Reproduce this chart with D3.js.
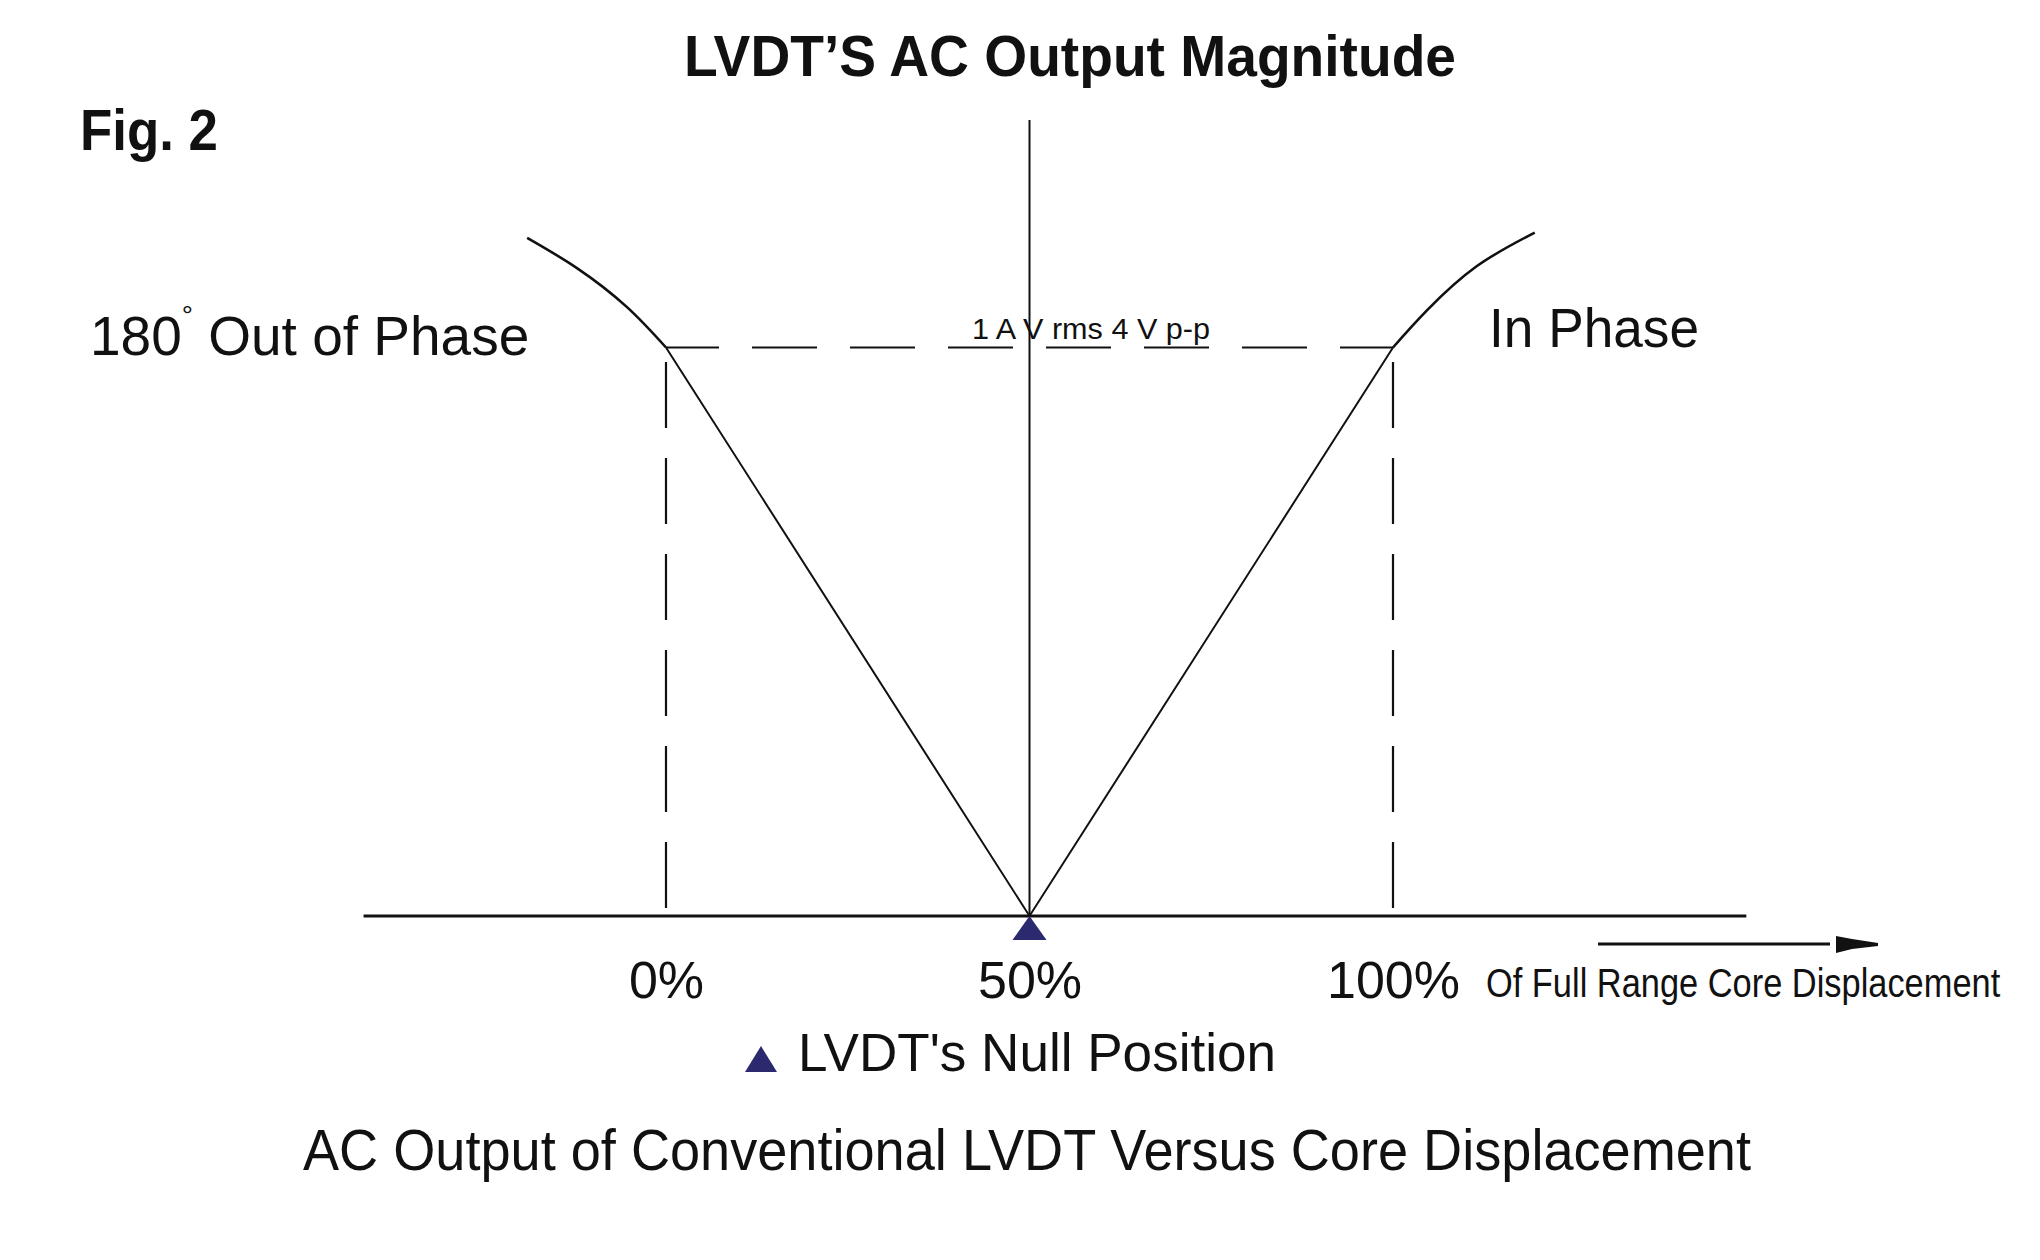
<!DOCTYPE html>
<html>
<head>
<meta charset="utf-8">
<script src="https://cdn.jsdelivr.net/npm/d3@7"></script>
<style>
  body { margin: 0; background: #fff; }
  text { font-family: "Liberation Sans", Arial, sans-serif; fill: #111; }
</style>
</head>
<body>
<svg width="2040" height="1260"></svg>
<script>
// Chart data (displacement in % of full range, magnitude in V rms)
const tickValues = [0, 50, 100];
const tickLabels = ["0%", "50%", "100%"];
const vShape = [[0, 1.4], [50, 0], [100, 1.4]];
const leftCurve = [[-19.1, 1.67], [-12.2, 1.595], [-5.4, 1.5], [0, 1.4]];
const rightCurve = [[100, 1.4], [104.7, 1.492], [111.5, 1.6], [119.5, 1.683]];
const fullScale = 1.4;
const nullPosition = 50;
const axisExtent = [-41.6, 148.6];
const axisTop = 1.96;

const svg = d3.select("svg");

// Scales
const xScale = d3.scaleLinear().domain([0, 100]).range([666, 1393]);
const yScale = d3.scaleLinear().domain([0, fullScale]).range([916, 347.5]);

// Titles
svg.append("text")
  .text("LVDT\u2019S AC Output Magnitude")
  .attr("x", 684).attr("y", 76)
  .attr("textLength", 772).attr("lengthAdjust", "spacingAndGlyphs")
  .style("font-size", "57px").style("font-weight", "bold");

svg.append("text")
  .text("Fig. 2")
  .attr("x", 80).attr("y", 150)
  .attr("textLength", 138).attr("lengthAdjust", "spacingAndGlyphs")
  .style("font-size", "57px").style("font-weight", "bold");

// Dashed full scale lines
const dashed = svg.append("g")
  .attr("fill", "none")
  .attr("stroke", "#111")
  .attr("stroke-width", 2.2);

dashed.append("line")
  .attr("x1", xScale(0)).attr("x2", xScale(100))
  .attr("y1", yScale(fullScale)).attr("y2", yScale(fullScale))
  .attr("stroke-dasharray", "65 33")
  .attr("stroke-dashoffset", 12);

[0, 100].forEach(v => {
  dashed.append("line")
    .attr("x1", xScale(v)).attr("x2", xScale(v))
    .attr("y1", yScale(0)).attr("y2", yScale(fullScale))
    .attr("stroke-dasharray", "66 30")
    .attr("stroke-dashoffset", -8);
});

// Vertical axis at null position
svg.append("line")
  .attr("x1", xScale(nullPosition)).attr("x2", xScale(nullPosition))
  .attr("y1", yScale(axisTop)).attr("y2", yScale(0))
  .attr("stroke", "#111").attr("stroke-width", 2);

// Output magnitude lines
const linear = d3.line().x(d => xScale(d[0])).y(d => yScale(d[1]));
const smooth = d3.line().x(d => xScale(d[0])).y(d => yScale(d[1])).curve(d3.curveNatural);

svg.append("path").datum(vShape)
  .attr("d", linear)
  .attr("fill", "none").attr("stroke", "#111").attr("stroke-width", 2);

[leftCurve, rightCurve].forEach(c => {
  svg.append("path").datum(c)
    .attr("d", smooth)
    .attr("fill", "none").attr("stroke", "#111").attr("stroke-width", 2.6);
});

// Horizontal axis
svg.append("line")
  .attr("x1", xScale(axisExtent[0])).attr("x2", xScale(axisExtent[1]))
  .attr("y1", yScale(0)).attr("y2", yScale(0))
  .attr("stroke", "#111").attr("stroke-width", 3);

const xAxis = d3.axisBottom(xScale)
  .tickValues(tickValues)
  .tickSize(0)
  .tickFormat((d, i) => tickLabels[i]);

const axisG = svg.append("g")
  .attr("transform", `translate(0, ${yScale(0)})`)
  .call(xAxis);
axisG.select(".domain").remove();
axisG.selectAll("text")
  .attr("y", 82).attr("dy", null)
  .attr("fill", "#111")
  .style("font-size", "52px")
  .style("font-family", "'Liberation Sans', Arial, sans-serif");

// Null position marker
const nx = xScale(nullPosition), ny = yScale(0);
svg.append("path")
  .attr("d", `M${nx},${ny}L${nx + 17},${ny + 24}L${nx - 17},${ny + 24}Z`)
  .attr("fill", "#2b2a6e");

// Full scale label
svg.append("text")
  .text("1 A V rms 4 V  p-p")
  .attr("x", 972).attr("y", yScale(fullScale) - 9)
  .attr("textLength", 238).attr("lengthAdjust", "spacingAndGlyphs")
  .style("font-size", "30px");

// Phase labels
const outPhase = svg.append("text")
  .attr("x", 90).attr("y", 355)
  .style("font-size", "55px");
outPhase.append("tspan").text("180");
outPhase.append("tspan").text("\u00b0").attr("dy", -30).style("font-size", "28px");
outPhase.append("tspan").text(" Out of Phase").attr("dy", 30);

svg.append("text")
  .text("In Phase")
  .attr("x", 1489).attr("y", 347)
  .attr("textLength", 210).attr("lengthAdjust", "spacingAndGlyphs")
  .style("font-size", "56px");

// Displacement arrow and label
svg.append("line")
  .attr("x1", 1598).attr("x2", 1830)
  .attr("y1", 944).attr("y2", 944)
  .attr("stroke", "#111").attr("stroke-width", 3);
svg.append("path")
  .attr("d", "M1836,936L1852,939L1878,943L1878,946L1852,949L1836,953Z")
  .attr("fill", "#111");

svg.append("text")
  .text("Of Full Range Core Displacement")
  .attr("transform", "translate(1486, 997) scale(0.86, 1)")
  .style("font-size", "40px");

// Legend
svg.append("path")
  .attr("d", "M761,1046L777,1072L745,1072Z")
  .attr("fill", "#2b2a6e");
svg.append("text")
  .text("LVDT's Null Position")
  .attr("x", 798).attr("y", 1071)
  .attr("textLength", 478).attr("lengthAdjust", "spacingAndGlyphs")
  .style("font-size", "53px");

// Caption
svg.append("text")
  .text("AC Output of Conventional LVDT Versus Core Displacement")
  .attr("x", 303).attr("y", 1170)
  .attr("textLength", 1448).attr("lengthAdjust", "spacingAndGlyphs")
  .style("font-size", "57px");
</script>
</body>
</html>
